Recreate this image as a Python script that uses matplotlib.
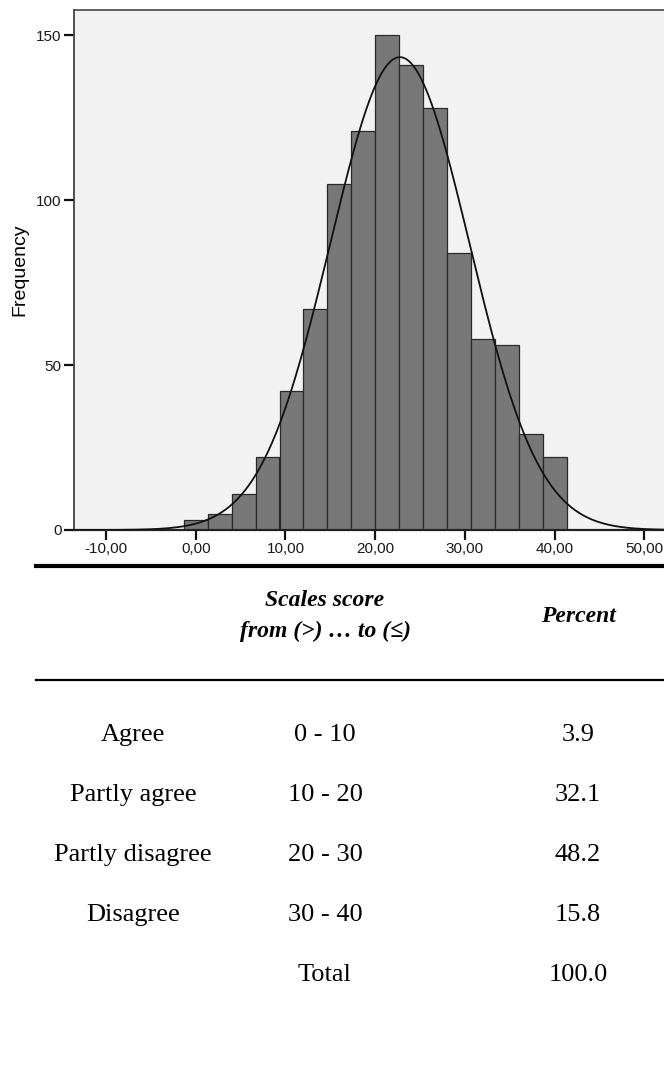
import numpy as np
import matplotlib
matplotlib.use("Agg")
import matplotlib.pyplot as plt
from matplotlib.lines import Line2D

# histogram of scale scores (16 bins, width 8/3, centred on 0 ... 40)
bin_centers = [0.00, 2.67, 5.33, 8.00, 10.67, 13.33, 16.00, 18.67,
               21.33, 24.00, 26.67, 29.33, 32.00, 34.67, 37.33, 40.00]
counts = [3, 5, 11, 22, 42, 67, 105, 121, 150, 141, 128, 84, 58, 56, 29, 22]
bin_width = 8 / 3

# fitted normal curve
curve_mean = 22.75
curve_sd = 7.75

x_ticks = [-10, 0, 10, 20, 30, 40, 50]
y_ticks = [0, 50, 100, 150]

# table below the chart
row_labels = ["Agree", "Partly agree", "Partly disagree", "Disagree", ""]
row_ranges = ["0 - 10", "10 - 20", "20 - 30", "30 - 40", "Total"]
row_percents = ["3.9", "32.1", "48.2", "15.8", "100.0"]

W, H = 664, 1070
fig = plt.figure(figsize=(W / 100, H / 100), dpi=100)
fig.patch.set_facecolor("white")

def fy(y):
    return 1 - y / H

# ---- chart ----
ax_l, ax_t, ax_b = 74.3, 10, 530
ax = fig.add_axes([ax_l / W, fy(ax_b), (W - ax_l) / W, (ax_b - ax_t) / H])
ax.set_facecolor("#f2f2f2")

ax.bar(bin_centers, counts, width=bin_width, color="#787878",
       edgecolor="#2a2a2a", linewidth=0.9, zorder=2)

n_total = sum(counts)
xs = np.linspace(-16, 56, 500)
ys = n_total * bin_width * np.exp(-0.5 * ((xs - curve_mean) / curve_sd) ** 2) / (curve_sd * np.sqrt(2 * np.pi))
ax.plot(xs, ys, color="#111111", linewidth=1.3, zorder=3)

ax.set_xlim(-13.53, 52.18)
ax.set_ylim(0, 157.6)

ax.set_xticks(x_ticks)
ax.set_xticklabels([f"{v:.2f}".replace(".", ",") for v in x_ticks])
ax.set_yticks(y_ticks)
ax.set_yticklabels([str(v) for v in y_ticks])
ax.tick_params(axis="both", direction="out", length=7, width=1.6,
               color="#111111", labelsize=11, labelcolor="#1a1a1a", pad=2)
for lab in ax.get_xticklabels() + ax.get_yticklabels():
    lab.set_family("Liberation Sans")

ax.spines["right"].set_visible(False)
ax.spines["top"].set_color("#444444")
ax.spines["top"].set_linewidth(1.2)
ax.spines["left"].set_color("#333333")
ax.spines["left"].set_linewidth(1.2)
ax.spines["bottom"].set_color("#222222")
ax.spines["bottom"].set_linewidth(1.6)

ax.set_ylabel("Frequency", fontsize=14, family="Liberation Sans",
              color="black", labelpad=6)

# ---- table ----
fig.add_artist(Line2D([36 / W, 1], [fy(566)] * 2, color="black", linewidth=3.0))
fig.add_artist(Line2D([36 / W, 1], [fy(680)] * 2, color="black", linewidth=1.6))

serif = ["Liberation Serif", "DejaVu Serif"]
col_label, col_range, col_pct = 133, 325, 578

fig.text(col_range / W, fy(601), "Scales score", ha="center", va="center",
         fontsize=17, family=serif, weight="bold", style="italic")
fig.text(col_range / W, fy(631), "from (>) \u2026 to (\u2264)", ha="center", va="center",
         fontsize=17, family=serif, weight="bold", style="italic")
fig.text(col_pct / W, fy(616), "Percent", ha="center", va="center",
         fontsize=17, family=serif, weight="bold", style="italic")

row_y = [735, 795, 855, 915, 975]
for y, lab, rng, pct in zip(row_y, row_labels, row_ranges, row_percents):
    fig.text(col_label / W, fy(y), lab, ha="center", va="center", fontsize=19, family=serif)
    fig.text(col_range / W, fy(y), rng, ha="center", va="center", fontsize=19, family=serif)
    fig.text(col_pct / W, fy(y), pct, ha="center", va="center", fontsize=19, family=serif)

fig.savefig("out.png", dpi=100)
